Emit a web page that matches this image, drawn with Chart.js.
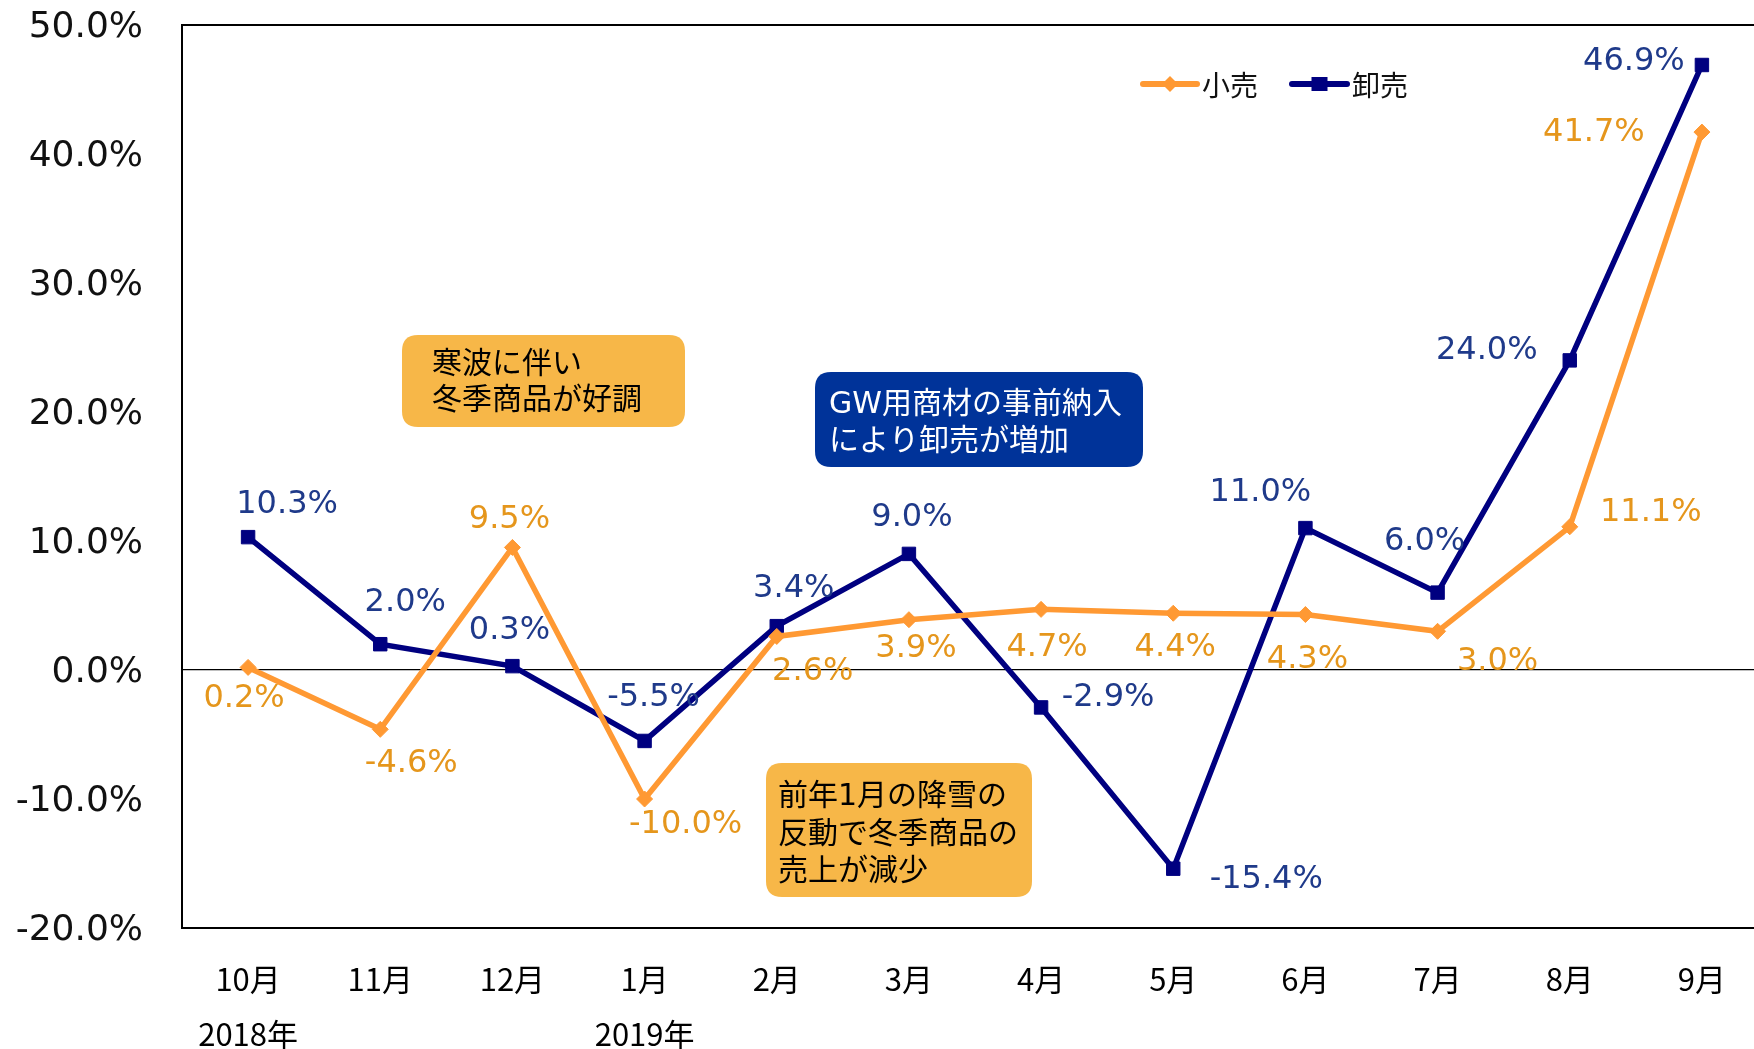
<!DOCTYPE html>
<html><head><meta charset="utf-8">
<script src="https://cdn.jsdelivr.net/npm/chart.js@4/dist/chart.umd.min.js"></script>
<style>
html,body{margin:0;padding:0;overflow:hidden;background:#fff;width:1754px;height:1049px}
#wrap{width:1768px;height:1049px;position:relative}
canvas{display:block}
</style></head>
<body><div id="wrap"><canvas id="c" width="1768" height="1049"></canvas></div>
<script>
// ---- data ----
const months = ['10月','11月','12月','1月','2月','3月','4月','5月','6月','7月','8月','9月'];
const years = ['2018年','','','2019年','','','','','','','',''];
const retail = [0.2,-4.6,9.5,-10.0,2.6,3.9,4.7,4.4,4.3,3.0,11.1,41.7];
const wholesale = [10.3,2.0,0.3,-5.5,3.4,9.0,-2.9,-15.4,11.0,6.0,24.0,46.9];
const yTicks = [-20,-10,0,10,20,30,40,50];
const seriesNames = ['小売','卸売'];
const noteTexts = [
  ['寒波に伴い','冬季商品が好調'],
  ['GW用商材の事前納入','により卸売が増加'],
  ['前年1月の降雪の','反動で冬季商品の','売上が減少']
];

// ---- label placement (pixel offsets from each point) ----
const retailLabelOffsets = [[-4,31],[31,34],[-3,-28],[41,26],[36,35],[7,29],[6,38],[2,34],[2,45],[60,30],[81,-14],[-108,1]];
const wholesaleLabelOffsets = [[39,-32],[25,-42],[-3,-35],[9,-43],[17,-37],[3,-36],[67,-10],[93,11],[-45,-35],[-13,-51],[-83,-10],[-68,-3]];

// ---- annotation boxes layout ----
const noteLayout = [
  {x:402,y:335,w:283,h:92,fill:'#F7B748',color:'#000',tx:432,ty:[365,401]},
  {x:815,y:372,w:328,h:95,fill:'#003399',color:'#fff',tx:829,ty:[405,442]},
  {x:766,y:763,w:266,h:134,fill:'#F7B748',color:'#000',tx:778,ty:[797,835,872]}
];

const ORANGE = '#FF9933', NAVY = '#000080';
const ORANGE_TXT = '#E5961C', NAVY_TXT = '#1F3A8A';
const NUM_FONT = '"DejaVu Sans", Verdana, sans-serif';
const CJK_FONT = '"Noto Sans CJK JP", "Noto Sans", sans-serif';
const NOTE_FONT = '"DejaVu Sans", "Noto Sans CJK JP", sans-serif';

const labelPlugin = {
  id: 'valueLabels',
  afterDatasetsDraw(chart) {
    const ctx = chart.ctx;
    const offs = [retailLabelOffsets, wholesaleLabelOffsets];
    const cols = [ORANGE_TXT, NAVY_TXT];
    ctx.save();
    ctx.font = '32px ' + NUM_FONT;
    ctx.textAlign = 'center';
    ctx.textBaseline = 'middle';
    chart.data.datasets.forEach((ds, di) => {
      const meta = chart.getDatasetMeta(di);
      ctx.fillStyle = cols[di];
      meta.data.forEach((pt, i) => {
        const o = offs[di][i];
        ctx.fillText(ds.data[i].toFixed(1) + '%', pt.x + o[0], pt.y + o[1]);
      });
    });
    ctx.restore();
  }
};

function roundRect(ctx, x, y, w, h, r) {
  ctx.beginPath();
  ctx.moveTo(x + r, y);
  ctx.lineTo(x + w - r, y);
  ctx.quadraticCurveTo(x + w, y, x + w, y + r);
  ctx.lineTo(x + w, y + h - r);
  ctx.quadraticCurveTo(x + w, y + h, x + w - r, y + h);
  ctx.lineTo(x + r, y + h);
  ctx.quadraticCurveTo(x, y + h, x, y + h - r);
  ctx.lineTo(x, y + r);
  ctx.quadraticCurveTo(x, y, x + r, y);
  ctx.closePath();
}

const notesPlugin = {
  id: 'notes',
  afterDraw(chart) {
    const ctx = chart.ctx;
    ctx.save();
    noteLayout.forEach((L, k) => {
      roundRect(ctx, L.x, L.y, L.w, L.h, 16);
      ctx.fillStyle = L.fill;
      ctx.fill();
      ctx.fillStyle = L.color;
      ctx.font = '30px ' + NOTE_FONT;
      ctx.textAlign = 'left';
      ctx.textBaseline = 'middle';
      noteTexts[k].forEach((t, j) => ctx.fillText(t, L.tx, L.ty[j]));
    });
    // legend
    const items = [
      {x1:1143, x2:1197, tx:1202, color:ORANGE, style:'diamond'},
      {x1:1292, x2:1347, tx:1352, color:NAVY, style:'square'}
    ];
    const ly = 84;
    items.forEach((it, i) => {
      ctx.strokeStyle = it.color;
      ctx.lineWidth = 6;
      ctx.lineCap = 'round';
      ctx.beginPath(); ctx.moveTo(it.x1, ly); ctx.lineTo(it.x2, ly); ctx.stroke();
      const cx = (it.x1 + it.x2) / 2;
      ctx.fillStyle = it.color;
      if (it.style === 'diamond') {
        ctx.beginPath();
        ctx.moveTo(cx, ly - 8); ctx.lineTo(cx + 8, ly); ctx.lineTo(cx, ly + 8); ctx.lineTo(cx - 8, ly);
        ctx.closePath(); ctx.fill();
      } else {
        ctx.fillRect(cx - 8, ly - 7, 16, 14);
      }
      ctx.fillStyle = '#111';
      ctx.font = '28px ' + CJK_FONT;
      ctx.textAlign = 'left';
      ctx.textBaseline = 'middle';
      ctx.fillText(seriesNames[i], it.tx, ly + 1);
    });
    ctx.restore();
  }
};

new Chart(document.getElementById('c'), {
  type: 'line',
  data: {
    labels: months.map((m, i) => years[i] ? [m, years[i]] : m),
    datasets: [
      {label: seriesNames[0], data: retail, borderColor: ORANGE, backgroundColor: ORANGE,
       borderWidth: 5.5, pointStyle: 'rectRot', pointRadius: 8, pointHoverRadius: 8,
       pointBorderWidth: 1, pointBorderColor: ORANGE, tension: 0},
      {label: seriesNames[1], data: wholesale, borderColor: NAVY, backgroundColor: NAVY,
       borderWidth: 5.5, pointStyle: 'rect', pointRadius: 9.5, pointHoverRadius: 9.5,
       pointBorderWidth: 1, pointBorderColor: NAVY, tension: 0}
    ]
  },
  options: {
    responsive: false,
    animation: false,
    layout: {autoPadding: false, padding: {top: 25, left: 0, right: 0, bottom: 0}},
    plugins: {legend: {display: false}, tooltip: {enabled: false}},
    scales: {
      x: {
        offset: true,
        grid: {display: false},
        border: {display: true, color: '#000', width: 2},
        ticks: {color: '#000', font: {family: CJK_FONT, size: 31, lineHeight: 1.8}, padding: 15, maxRotation: 0, autoSkip: false},
        afterFit(s) { s.height = 121; s.paddingLeft = 0; s.paddingRight = 0; }
      },
      y: {
        min: -20, max: 50,
        afterBuildTicks(s) { s.ticks = yTicks.map(v => ({value: v})); },
        grid: {
          drawTicks: false,
          color: c => (c.tick && (c.tick.value === 0 || c.tick.value === 50)) ? '#000' : 'rgba(0,0,0,0)',
          lineWidth: c => (c.tick && c.tick.value === 50) ? 2 : 1.2
        },
        border: {display: true, color: '#000', width: 2},
        ticks: {color: '#111', font: {family: NUM_FONT, size: 36}, padding: 39, labelOffset: 3,
                callback: v => v.toFixed(1) + '%'},
        afterFit(s) { s.width = 182; s.paddingTop = 0; s.paddingBottom = 0; }
      }
    }
  },
  plugins: [labelPlugin, notesPlugin]
});
</script>
</body></html>
